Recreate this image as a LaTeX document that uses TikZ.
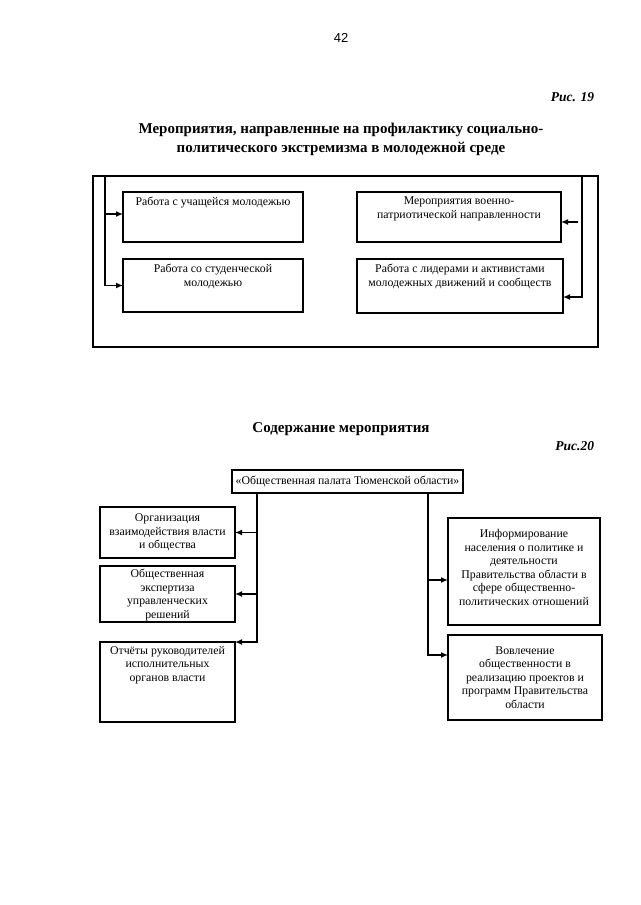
\documentclass[tikz,border=0pt]{standalone}
\usepackage{fontspec}
\setmainfont{Liberation Serif}
\newfontfamily\pnfont{Liberation Sans}
\usetikzlibrary{arrows.meta}
\begin{document}
\begin{tikzpicture}[x=1pt,y=-1pt,
  every node/.style={inner sep=0pt,outer sep=0pt},
  boxn/.style={draw,line width=1.4pt,anchor=north west},
  txt/.style={align=center,font=\fontsize{11.8}{13.6}\selectfont},
  conn/.style={line width=1.4pt},
  arr/.style={line width=1.4pt,-{Latex[length=7pt,width=6pt]}},
  ttl/.style={align=center,font=\fontsize{15}{19}\selectfont\bfseries},
  fig/.style={font=\fontsize{13.5}{15}\selectfont\bfseries\itshape}]
\useasboundingbox (0,0) rectangle (640,905);
% header
\node[font=\pnfont\fontsize{13}{15}\selectfont] (pn) at (341,38) {42};
\node[fig,anchor=east] (f19) at (594,97) {Рис. 19};
\node[ttl] (t19) at (341,139.5) {Мероприятия, направленные на профилактику социально-\\политического экстремизма в молодежной среде};
% Fig 19
\node[boxn,minimum width=505pt,minimum height=171pt] (frame) at (93,176) {};
\node[boxn,minimum width=180pt,minimum height=50pt] (b1) at (123,192) {};
\node[boxn,minimum width=180pt,minimum height=53pt] (b2) at (123,259) {};
\node[boxn,minimum width=204pt,minimum height=50pt] (b3) at (357,192) {};
\node[boxn,minimum width=206pt,minimum height=54pt] (b4) at (357,259) {};
\node[txt,anchor=north] (b1t) at ([yshift=-5pt]b1.north) {Работа с учащейся молодежью};
\node[txt,anchor=north] (b2t) at ([yshift=-5pt]b2.north) {Работа со студенческой\\молодежью};
\node[txt,anchor=north] (b3t) at ([yshift=-5pt]b3.north) {Мероприятия военно-\\патриотической направленности};
\node[txt,anchor=north] (b4t) at ([yshift=-5pt]b4.north) {Работа с лидерами и активистами\\молодежных движений и сообществ};
\coordinate (lt) at (105,176);
\coordinate (rt) at (582,176);
\draw[arr] (lt) |- (b2.west);
\draw[arr] (lt |- b1.west) ++(0,-3) -- ([yshift=3pt]b1.west);
\draw[arr] (rt) |- ([yshift=-11pt]b4.east);
\coordinate (s3) at (578,222);
\draw[arr] (s3) -- (s3 -| b3.east);
% Fig 20
\node[ttl] (t20) at (341,429) {Содержание мероприятия};
\node[fig,anchor=east] (f20) at (594,446) {Рис.20};
\node[draw,line width=1.4pt,minimum width=231pt,minimum height=23pt,txt] (top) at (347.5,481.5) {«Общественная палата Тюменской области»};
\node[boxn,minimum width=135pt,minimum height=51pt] (l1) at (100,507) {};
\node[boxn,minimum width=135pt,minimum height=56pt] (l2) at (100,566) {};
\node[boxn,minimum width=135pt,minimum height=80pt] (l3) at (100,642) {};
\node[boxn,minimum width=152pt,minimum height=107pt] (r1) at (448,518) {};
\node[boxn,minimum width=154pt,minimum height=85pt] (r2) at (448,635) {};
\node[txt] (l1t) at (l1.center) {Организация\\взаимодействия власти\\и общества};
\node[txt] (l2t) at ([yshift=-1pt]l2.center) {Общественная\\экспертиза\\управленческих\\решений};
\node[txt,anchor=north] (l3t) at ([yshift=-4pt]l3.north) {Отчёты руководителей\\исполнительных\\органов власти};
\node[txt] (r1t) at ([yshift=4pt]r1.center) {Информирование\\населения о политике и\\деятельности\\Правительства области в\\сфере общественно-\\политических отношений};
\node[txt] (r2t) at (r2.center) {Вовлечение\\общественности в\\реализацию проектов и\\программ Правительства\\области};
\coordinate (tl) at (257,493);
\coordinate (tr) at (428,493);
\draw[arr] (tl) |- (l3.north east);
\draw[arr] (tl |- l1.east) -- (l1.east);
\draw[arr] (tl |- l2.east) -- (l2.east);
\draw[arr] (tr) |- ([yshift=-20pt]r2.north west);
\draw[arr] (tr |- r1.west) ++(0,8.5) -- ([yshift=-8.5pt]r1.west);
\end{tikzpicture}
\end{document}
